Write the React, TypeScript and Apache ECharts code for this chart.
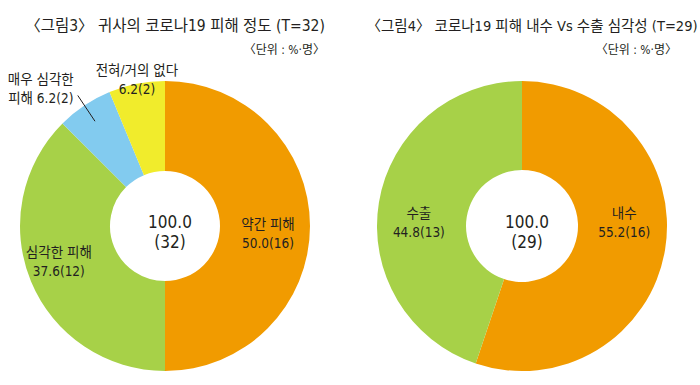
import React, { useEffect, useRef } from "react";
import * as echarts from "echarts";

const leftTitle = "〈그림3〉 귀사의 코로나19 피해 정도 (T=32)";
const rightTitle = "〈그림4〉 코로나19 피해 내수 Vs 수출 심각성 (T=29)";
const unitLabel = "〈단위 : %·명〉";

const leftNames = ["약간 피해", "심각한 피해", "매우 심각한\n피해", "전혀/거의 없다"];
const leftPercents = ["50.0", "37.6", "6.2", "6.2"];
const leftCounts = [16, 12, 2, 2];

const rightNames = ["내수", "수출"];
const rightPercents = ["55.2", "44.8"];
const rightCounts = [16, 13];

const totalPercent = "100.0";

const leftColors = ["#F19B00", "#A7D148", "#82CBEF", "#F1EC2C"];
const rightColors = ["#F19B00", "#A7D148"];

const FONT = "'Liberation Sans Narrow', 'DejaVu Sans Condensed', 'Noto Sans CJK KR', sans-serif";
const TEXT = "#231F20";

const LEFT_C = [165, 226];
const RIGHT_C = [522, 226];
const R_OUT = 145;

export default function App() {
  const ref = useRef<HTMLDivElement>(null);
  useEffect(() => {
    if (!ref.current) return;
    const chart = echarts.init(ref.current, null, { renderer: "svg" });

    const leftOffsets = [[0, 7], [-11, -4], [-67, -52], [-8, -45]];
    const rightOffsets = [[0, -20], [-1, 13]];

    const leftData = leftNames.map((n, i) => ({
      name: n,
      value: leftCounts[i],
      itemStyle: { color: leftColors[i] },
      label: { offset: leftOffsets[i] },
    }));
    const rightData = rightNames.map((n, i) => ({
      name: n,
      value: rightCounts[i],
      itemStyle: { color: rightColors[i] },
      label: { offset: rightOffsets[i] },
    }));

    // leader line for "매우 심각한 피해" along its slice mid-angle
    const leftTotal = leftCounts.reduce((a, b) => a + b, 0);
    const before = leftCounts.slice(0, 2).reduce((a, b) => a + b, 0);
    const midFrac = (before + leftCounts[2] / 2) / leftTotal;
    const ang = midFrac * Math.PI * 2; // clockwise from top
    const pt = (r: number) => [LEFT_C[0] + r * Math.sin(ang), LEFT_C[1] - r * Math.cos(ang)];
    const p1 = pt(126);
    const p2 = pt(157);

    const rightTotal = rightCounts.reduce((a, b) => a + b, 0);

    const labelCommon = {
      show: true,
      position: "inside",
      fontFamily: FONT,
      fontSize: 13.5,
      lineHeight: 19,
      color: TEXT,
      align: "center",
    };

    const titleStyleL = { fontFamily: FONT, fontSize: 15.5, fontWeight: "normal", color: TEXT };
    const titleStyleR = { fontFamily: FONT, fontSize: 14.5, fontWeight: "normal", color: TEXT };
    const unitStyle = { fontFamily: FONT, fontSize: 12, fontWeight: "normal", color: TEXT };
    const centerStyle = { fontFamily: FONT, fontSize: 17, lineHeight: 20, fontWeight: "normal", color: TEXT, align: "center" };

    chart.setOption({
      animation: false,
      title: [
        { text: leftTitle, left: 170, top: 13, textAlign: "center", textStyle: titleStyleL },
        { text: rightTitle, left: 527, top: 14, textAlign: "center", textStyle: titleStyleR },
        { text: unitLabel, right: 370, top: 39, textStyle: unitStyle },
        { text: unitLabel, right: 18, top: 39, textStyle: unitStyle },
        {
          text: `${totalPercent}\n(${leftTotal})`,
          left: LEFT_C[0],
          top: LEFT_C[1] - 19,
          textAlign: "center",
          textStyle: centerStyle,
        },
        {
          text: `${totalPercent}\n(${rightTotal})`,
          left: RIGHT_C[0],
          top: RIGHT_C[1] - 19,
          textAlign: "center",
          textStyle: centerStyle,
        },
      ],
      graphic: [
        {
          type: "line",
          shape: { x1: p1[0], y1: p1[1], x2: p2[0], y2: p2[1] },
          style: { stroke: "#231F20", lineWidth: 1 },
          z: 100,
        },
      ],
      series: [
        {
          type: "pie",
          center: LEFT_C,
          radius: [55, R_OUT],
          startAngle: 90,
          clockwise: true,
          avoidLabelOverlap: false,
          label: {
            ...labelCommon,
            formatter: (p: any) => `${leftNames[p.dataIndex]}${p.dataIndex === 2 ? " " : "\n"}${leftPercents[p.dataIndex]}(${leftCounts[p.dataIndex]})`,
          },
          labelLine: { show: false },
          emphasis: { disabled: true },
          data: leftData,
        },
        {
          type: "pie",
          center: RIGHT_C,
          radius: [56, R_OUT],
          startAngle: 90,
          clockwise: true,
          avoidLabelOverlap: false,
          label: {
            ...labelCommon,
            formatter: (p: any) => `${rightNames[p.dataIndex]}\n${rightPercents[p.dataIndex]}(${rightCounts[p.dataIndex]})`,
          },
          labelLine: { show: false },
          emphasis: { disabled: true },
          data: rightData,
        },
      ],
    });
    return () => chart.dispose();
  }, []);
  return (
    <div
      ref={ref}
      style={{ position: "fixed", left: 0, top: 0, width: 700, height: 385, background: "#fff" }}
    />
  );
}
